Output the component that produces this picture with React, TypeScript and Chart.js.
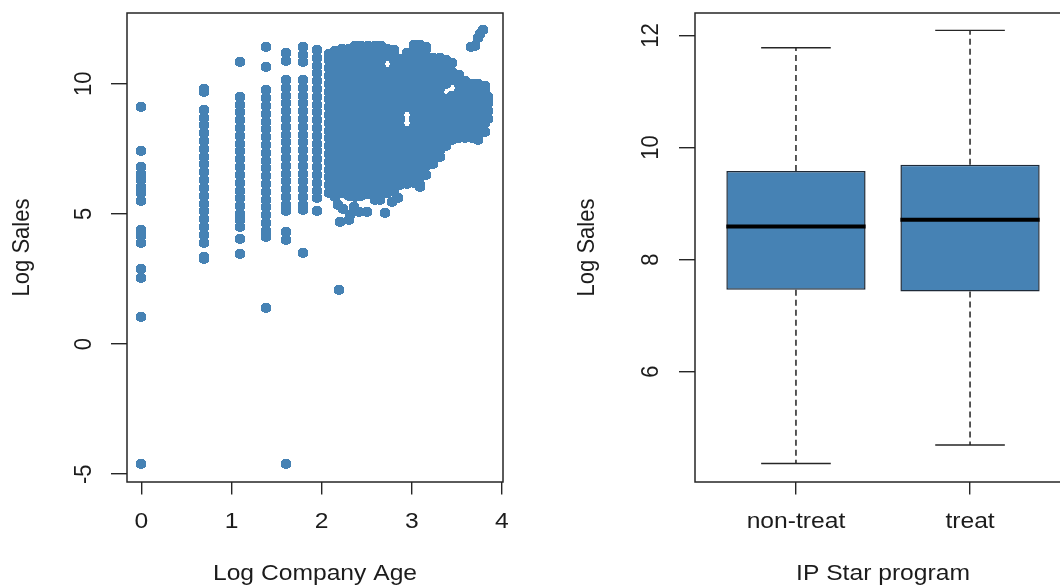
import React, { useEffect, useRef } from 'react';
import { Chart, registerables } from 'chart.js';

Chart.register(...registerables);

// ---------------- Left panel: Log Company Age vs Log Sales ----------------
// Separate columns (log of company age 1..7)
const sparseAgeLogs = [0, 0.693, 1.099, 1.386, 1.609, 1.792, 1.946];
const salesAge1 = [9.1, 7.42, 6.8, 6.55, 6.3, 6.05, 5.8, 5.5, 4.4, 4.15, 3.9, 2.88, 2.55, 1.05, -4.6];
const salesAge2 = [9.8, 9.7, 9.0, 8.7, 8.4, 8.1, 7.8, 7.5, 7.2, 6.9, 6.6, 6.3, 6.0, 5.7, 5.4, 5.1, 4.8, 4.5, 4.2, 3.9, 3.35, 3.25];
const salesAge3 = [10.85, 9.5, 9.2, 8.9, 8.6, 8.3, 8.0, 7.7, 7.4, 7.1, 6.8, 6.5, 6.2, 5.9, 5.6, 5.3, 5.0, 4.75, 4.5, 4.05, 3.45];
const salesAge4 = [11.4, 10.63, 9.75, 9.45, 9.15, 8.85, 8.55, 8.25, 7.95, 7.65, 7.35, 7.05, 6.75, 6.45, 6.15, 5.85, 5.55, 5.25, 4.95, 4.65, 4.35, 4.1, 1.37];
const salesAge5 = [11.2, 10.86, 10.15, 9.85, 9.55, 9.25, 8.95, 8.65, 8.35, 8.05, 7.75, 7.45, 7.15, 6.85, 6.55, 6.25, 5.95, 5.65, 5.35, 5.1, 4.3, 4.0, -4.6];
const salesAge6 = [11.4, 11.1, 10.82, 10.15, 9.85, 9.55, 9.25, 8.95, 8.65, 8.35, 8.05, 7.75, 7.45, 7.15, 6.85, 6.55, 6.25, 5.95, 5.65, 5.35, 5.15, 3.5];
const salesAge7 = [11.3, 11.0, 10.7, 10.4, 10.1, 9.8, 9.5, 9.2, 8.9, 8.6, 8.3, 8.0, 7.7, 7.4, 7.1, 6.8, 6.5, 6.2, 5.9, 5.6, 5.1];
const sparseSales = [salesAge1, salesAge2, salesAge3, salesAge4, salesAge5, salesAge6, salesAge7];

// Dense cloud (older companies)
const denseAgeLogs = [2.08, 2.15, 2.23, 2.30, 2.37, 2.44, 2.51, 2.59, 2.66, 2.73, 2.80, 2.87, 2.95, 3.02, 3.09, 3.16, 3.23, 3.31, 3.38, 3.45, 3.52, 3.59, 3.67, 3.74, 3.81, 3.85];
const denseSales = [
  [5.8, 6.1, 6.4, 6.7, 7.0, 7.3, 7.6, 7.9, 8.2, 8.5, 8.8, 9.1, 9.4, 9.7, 10.0, 10.3, 10.6, 10.9, 11.15],
  [5.65, 5.95, 6.25, 6.55, 6.85, 7.15, 7.45, 7.75, 8.05, 8.35, 8.65, 8.95, 9.25, 9.55, 9.85, 10.15, 10.45, 10.75, 11.05, 11.25],
  [5.8, 6.1, 6.4, 6.7, 7.0, 7.3, 7.6, 7.9, 8.2, 8.5, 8.8, 9.1, 9.4, 9.7, 10.0, 10.3, 10.6, 10.9, 11.2, 11.35],
  [5.7, 5.95, 6.25, 6.55, 6.85, 7.15, 7.45, 7.75, 8.05, 8.35, 8.65, 8.95, 9.25, 9.55, 9.85, 10.15, 10.45, 10.75, 11.05, 11.35],
  [5.65, 5.8, 6.1, 6.4, 6.7, 7.0, 7.3, 7.6, 7.9, 8.2, 8.5, 8.8, 9.1, 9.4, 9.7, 10.0, 10.3, 10.6, 10.9, 11.2, 11.45],
  [5.7, 5.95, 6.25, 6.55, 6.85, 7.15, 7.45, 7.75, 8.05, 8.35, 8.65, 8.95, 9.25, 9.55, 9.85, 10.15, 10.45, 10.75, 11.05, 11.35, 11.45],
  [5.75, 6.1, 6.4, 6.7, 7.0, 7.3, 7.6, 7.9, 8.2, 8.5, 8.8, 9.1, 9.4, 9.7, 10.0, 10.3, 10.6, 10.9, 11.2, 11.45],
  [5.65, 5.95, 6.25, 6.55, 6.85, 7.15, 7.45, 7.75, 8.05, 8.35, 8.65, 8.95, 9.25, 9.55, 9.85, 10.15, 10.45, 10.75, 11.05, 11.35, 11.45],
  [5.75, 6.1, 6.4, 6.7, 7.0, 7.3, 7.6, 7.9, 8.2, 8.5, 8.8, 9.1, 9.4, 9.7, 10.0, 10.3, 10.6, 10.9, 11.2, 11.45],
  [5.8, 5.95, 6.25, 6.55, 6.85, 7.15, 7.45, 7.75, 8.05, 8.35, 8.65, 8.95, 9.25, 9.55, 9.85, 10.15, 10.45, 11.05, 11.35],
  [5.85, 6.1, 6.4, 6.7, 7.0, 7.3, 7.6, 7.9, 8.2, 8.5, 8.8, 9.1, 9.4, 9.7, 10.0, 10.3, 10.6, 10.9, 11.2, 11.3],
  [6.1, 6.25, 6.55, 6.85, 7.15, 7.45, 7.75, 8.05, 8.35, 8.65, 8.95, 9.25, 9.55, 9.85, 10.15, 10.45, 10.75, 10.95],
  [6.15, 6.4, 6.7, 7.0, 7.3, 7.6, 7.9, 8.2, 9.1, 9.4, 9.7, 10.0, 10.3, 10.6, 10.9, 11.2],
  [6.2, 6.55, 6.85, 7.15, 7.45, 7.75, 8.05, 8.35, 8.65, 8.95, 9.25, 9.55, 9.85, 10.15, 10.45, 10.75, 11.05, 11.35, 11.5],
  [6.1, 6.4, 6.7, 7.0, 7.3, 7.6, 7.9, 8.2, 8.5, 8.8, 9.1, 9.4, 9.7, 10.0, 10.3, 10.6, 10.9, 11.2, 11.5],
  [6.5, 6.85, 7.15, 7.45, 7.75, 8.05, 8.35, 8.65, 8.95, 9.25, 9.55, 9.85, 10.15, 10.45, 10.75, 11.05, 11.35, 11.4],
  [6.9, 7.0, 7.3, 7.6, 7.9, 8.2, 8.5, 8.8, 9.1, 9.4, 9.7, 10.0, 10.3, 10.6, 10.9, 11.0],
  [7.2, 7.45, 7.75, 8.05, 8.35, 8.65, 8.95, 9.25, 9.55, 9.85, 10.15, 10.45, 10.75, 11.0],
  [7.6, 7.9, 8.2, 8.5, 8.8, 9.1, 9.4, 10.0, 10.3, 10.6, 10.9],
  [7.85, 8.05, 8.35, 8.65, 8.95, 9.25, 9.55, 10.15, 10.45, 10.8],
  [7.9, 8.2, 8.5, 8.8, 9.1, 9.4, 9.7, 10.0, 10.35],
  [7.9, 8.05, 8.35, 8.65, 8.95, 9.25, 9.55, 9.85, 10.1],
  [7.9, 8.2, 8.5, 8.8, 9.1, 9.4, 9.7, 10.0],
  [7.85, 8.05, 8.35, 8.65, 8.95, 9.25, 9.55, 9.85, 10.0],
  [8.15, 8.5, 8.8, 9.1, 9.4, 9.7, 9.9],
  [8.65, 8.95, 9.25, 9.5],
];

// Isolated points
const topRightAge = [3.79, 3.76, 3.735, 3.70, 3.66];
const topRightSales = [12.05, 11.9, 11.76, 11.45, 11.43];
const stragglerAge = [2.197, 2.2, 2.3, 2.31, 2.185, 2.24, 2.36, 2.41, 2.5, 2.59, 2.65, 2.7, 2.78, 2.85, 2.96, 3.09];
const stragglerSales = [2.08, 4.7, 4.78, 4.96, 5.35, 5.2, 5.25, 5.09, 5.09, 5.54, 5.54, 5.03, 5.47, 5.6, 6.24, 6.05];

const scatterXTicks = [0, 1, 2, 3, 4];
const scatterYTicks = [-5, 0, 5, 10];

// ---------------- Right panel: boxplot by IP Star program ----------------
const groups = ['non-treat', 'treat'];
const lowerWhisker = [4.36, 4.69];
const quartile1 = [7.46, 7.43];
const medians = [8.59, 8.71];
const quartile3 = [9.58, 9.69];
const upperWhisker = [11.78, 12.09];
const boxYTicks = [6, 8, 10, 12];

// ---------------- Styles ----------------
const STEEL = '#4682B4';
const INK = '#1c1c1c';
const FRAME = '#262626';
const FONT = '22px "Liberation Sans", Arial, Helvetica, sans-serif';
const STRETCH = 1.12;
const BOX_HALF = 0.4;
const CAP_HALF = 0.2;

function stretchedText(ctx: CanvasRenderingContext2D, text: string, x: number, y: number, rotated: boolean, shift: number) {
  ctx.save();
  ctx.translate(x, y);
  ctx.scale(STRETCH, 1);
  if (rotated) ctx.rotate(-Math.PI / 2);
  ctx.textAlign = 'center';
  ctx.textBaseline = 'alphabetic';
  ctx.fillText(text, 0, shift);
  ctx.restore();
}

function makeTextPlugin(cfg: {
  yLabelX: number; yTitleX: number; xLabelBase: number; xTitleBase: number;
  xTitle: string; yTitle: string; xLabel: (v: number) => string;
}) {
  return {
    id: 'rAxisText',
    afterDraw(chart: any) {
      const ctx = chart.ctx as CanvasRenderingContext2D;
      const xs = chart.scales.x;
      const ys = chart.scales.y;
      const a = chart.chartArea;
      ctx.save();
      ctx.font = FONT;
      ctx.fillStyle = INK;
      ys.ticks.forEach((t: any) => stretchedText(ctx, String(t.value), cfg.yLabelX, ys.getPixelForValue(t.value), true, 7.9));
      xs.ticks.forEach((t: any) => stretchedText(ctx, cfg.xLabel(t.value), xs.getPixelForValue(t.value), cfg.xLabelBase, false, 0));
      stretchedText(ctx, cfg.xTitle, (a.left + a.right) / 2, cfg.xTitleBase, false, 0);
      stretchedText(ctx, cfg.yTitle, cfg.yTitleX, (a.top + a.bottom) / 2, true, 5.6);
      ctx.restore();
    },
  };
}

const framePlugin = {
  id: 'rFrame',
  afterDatasetsDraw(chart: any) {
    const { left, right, top, bottom } = chart.chartArea;
    const ctx = chart.ctx as CanvasRenderingContext2D;
    ctx.save();
    ctx.strokeStyle = FRAME;
    ctx.lineWidth = 1.5;
    ctx.strokeRect(left, top, right - left, bottom - top);
    ctx.restore();
  },
};

// draw the marker images without resampling so overlapping markers leave no seams
const crispPlugin = {
  id: 'crispPoints',
  beforeDatasetsDraw(chart: any) {
    chart.ctx.save();
    chart.ctx.imageSmoothingEnabled = false;
  },
  afterDatasetsDraw(chart: any) {
    chart.ctx.restore();
  },
};

function tickGrid(len: number) {
  return { display: true, offset: false, drawOnChartArea: false, drawTicks: true, tickLength: len, color: FRAME, lineWidth: 1.4 };
}

function makeMarker() {
  const w = 12;
  const h = 10;
  const c = document.createElement('canvas');
  c.width = w;
  c.height = h;
  const g = c.getContext('2d')!;
  g.fillStyle = STEEL;
  g.beginPath();
  g.ellipse(w / 2, h / 2, 5.35, 4.95, 0, 0, Math.PI * 2);
  g.fill();
  const img = g.getImageData(0, 0, w, h);
  const d = img.data;
  for (let i = 0; i < d.length; i += 4) {
    const on = d[i + 3] > 100;
    d[i] = 0x46; d[i + 1] = 0x82; d[i + 2] = 0xb4; d[i + 3] = on ? 255 : 0;
  }
  g.putImageData(img, 0, 0);
  return c;
}

function leftConfig(marker: HTMLCanvasElement): any {
  const points: { x: number; y: number }[] = [];
  sparseAgeLogs.forEach((x, i) => sparseSales[i].forEach((y) => points.push({ x, y })));
  denseAgeLogs.forEach((x, i) => denseSales[i].forEach((y) => points.push({ x, y })));
  topRightAge.forEach((x, i) => points.push({ x, y: topRightSales[i] }));
  stragglerAge.forEach((x, i) => points.push({ x, y: stragglerSales[i] }));

  return {
    type: 'scatter',
    data: {
      datasets: [{
        data: points,
        pointStyle: marker,
        pointRadius: 5,
        pointHoverRadius: 5,
        backgroundColor: STEEL,
        borderWidth: 0,
      }],
    },
    options: {
      animation: false,
      responsive: false,
      devicePixelRatio: 1,
      events: [],
      layout: { padding: { left: 0, right: 37, top: 13, bottom: 0 }, autoPadding: false },
      plugins: { legend: { display: false }, tooltip: { enabled: false }, title: { display: false } },
      scales: {
        x: {
          type: 'linear', min: -0.159, max: 4.012,
          afterBuildTicks: (s: any) => { s.ticks = scatterXTicks.map((v) => ({ value: v })); },
          afterFit: (s: any) => { s.height = 104; },
          ticks: { display: false },
          grid: tickGrid(12.5),
          border: { display: false },
        },
        y: {
          type: 'linear', min: -5.3, max: 12.72,
          afterBuildTicks: (s: any) => { s.ticks = scatterYTicks.map((v) => ({ value: v })); },
          afterFit: (s: any) => { s.width = 127; },
          ticks: { display: false },
          grid: tickGrid(16),
          border: { display: false },
        },
      },
    },
    plugins: [
      crispPlugin,
      framePlugin,
      makeTextPlugin({
        yLabelX: 82, yTitleX: 22.5, xLabelBase: 528, xTitleBase: 580,
        xTitle: 'Log Company Age', yTitle: 'Log Sales', xLabel: (v) => String(v),
      }),
    ],
  };
}

function rightConfig(): any {
  const boxes = groups.map((_, i) => ({ x: i + 1, y: [quartile1[i], quartile3[i]] }));
  const whiskers: any[] = [];
  const caps: any[] = [];
  const meds: any[] = [];
  groups.forEach((_, i) => {
    const c = i + 1;
    whiskers.push({ x: c, y: quartile3[i] }, { x: c, y: upperWhisker[i] }, { x: c, y: null });
    whiskers.push({ x: c, y: quartile1[i] }, { x: c, y: lowerWhisker[i] }, { x: c, y: null });
    caps.push({ x: c - CAP_HALF, y: upperWhisker[i] }, { x: c + CAP_HALF, y: upperWhisker[i] }, { x: c, y: null });
    caps.push({ x: c - CAP_HALF, y: lowerWhisker[i] }, { x: c + CAP_HALF, y: lowerWhisker[i] }, { x: c, y: null });
    meds.push({ x: c - BOX_HALF, y: medians[i] }, { x: c + BOX_HALF, y: medians[i] }, { x: c, y: null });
  });
  const lineBase = { type: 'line', pointRadius: 0, fill: false, tension: 0, spanGaps: false, borderCapStyle: 'butt' };

  return {
    type: 'bar',
    data: {
      datasets: [
        {
          type: 'bar', data: boxes, backgroundColor: STEEL, borderColor: '#1e2a38', borderWidth: 1.5,
          borderSkipped: false, barPercentage: 2 * BOX_HALF, categoryPercentage: 1, order: 4,
        },
        { ...lineBase, data: whiskers, borderColor: '#222222', borderWidth: 1.5, borderDash: [6, 4], order: 3 },
        { ...lineBase, data: caps, borderColor: FRAME, borderWidth: 1.4, order: 2 },
        { ...lineBase, data: meds, borderColor: '#000000', borderWidth: 4, order: 1 },
      ],
    },
    options: {
      animation: false,
      responsive: false,
      devicePixelRatio: 1,
      events: [],
      layout: { padding: { left: 0, right: 29, top: 13, bottom: 0 }, autoPadding: false },
      plugins: { legend: { display: false }, tooltip: { enabled: false }, title: { display: false } },
      scales: {
        x: {
          type: 'linear', min: 0.42, max: 2.58, offset: false,
          afterBuildTicks: (s: any) => { s.ticks = groups.map((_, i) => ({ value: i + 1 })); },
          afterFit: (s: any) => { s.height = 104; },
          ticks: { display: false },
          grid: tickGrid(12.5),
          border: { display: false },
        },
        y: {
          type: 'linear', min: 4.03, max: 12.4,
          afterBuildTicks: (s: any) => { s.ticks = boxYTicks.map((v) => ({ value: v })); },
          afterFit: (s: any) => { s.width = 155; },
          ticks: { display: false },
          grid: tickGrid(16),
          border: { display: false },
        },
      },
    },
    plugins: [
      framePlugin,
      makeTextPlugin({
        yLabelX: 109.5, yTitleX: 47.5, xLabelBase: 528, xTitleBase: 580,
        xTitle: 'IP Star program', yTitle: 'Log Sales', xLabel: (v) => groups[Math.round(v) - 1] ?? '',
      }),
    ],
  };
}

export default function App() {
  const leftRef = useRef<HTMLCanvasElement>(null);
  const rightRef = useRef<HTMLCanvasElement>(null);

  useEffect(() => {
    const left = new Chart(leftRef.current!, leftConfig(makeMarker()));
    const right = new Chart(rightRef.current!, rightConfig());
    return () => {
      left.destroy();
      right.destroy();
    };
  }, []);

  return (
    <div style={{ position: 'absolute', left: 0, top: 0, width: 1060, height: 586, overflow: 'hidden', background: '#ffffff' }}>
      <canvas ref={leftRef} width={540} height={586} style={{ position: 'absolute', left: 0, top: 0, width: 540, height: 586 }} />
      <canvas ref={rightRef} width={560} height={586} style={{ position: 'absolute', left: 540, top: 0, width: 560, height: 586 }} />
    </div>
  );
}
